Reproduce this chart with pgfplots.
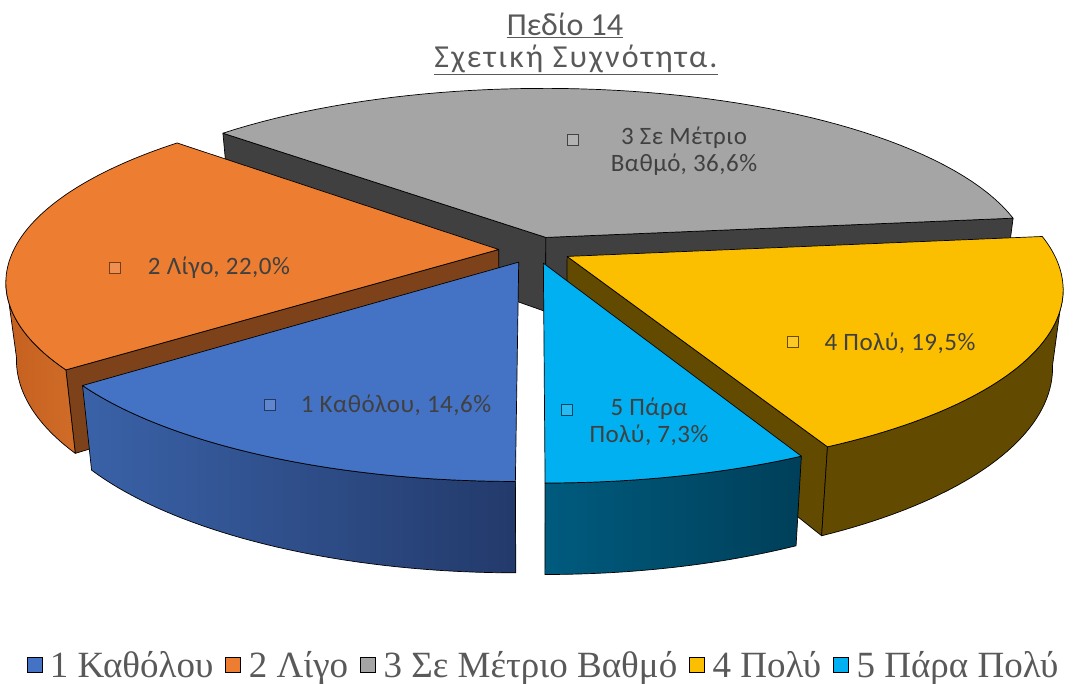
\documentclass[border=0pt]{standalone}
\usepackage{pgfplots}
\pgfplotsset{compat=1.18}
\usepackage{fontspec}
\setmainfont{Liberation Serif}
\newfontfamily\calibri{Carlito}

\definecolor{cBlue}{HTML}{4472C4}
\definecolor{cOrange}{HTML}{ED7D31}
\definecolor{cGrey}{HTML}{A5A5A5}
\definecolor{cYellow}{HTML}{FBBF00}
\definecolor{cCyan}{HTML}{00B0F0}
\definecolor{sBlueL}{HTML}{3A62A8}
\definecolor{sBlueR}{HTML}{233A6B}
\definecolor{sOrangeL}{HTML}{C5601F}
\definecolor{sOrangeR}{HTML}{D06C28}
\definecolor{kOrange}{HTML}{7D421A}
\definecolor{kGrey}{HTML}{404040}
\definecolor{sYellow}{HTML}{624B00}
\definecolor{sCyanL}{HTML}{005B7E}
\definecolor{sCyanR}{HTML}{003F59}
\definecolor{labgray}{HTML}{404040}
\definecolor{titlegray}{HTML}{595959}

% relative frequencies (%)
\def\pA{14.6}\def\pB{22.0}\def\pC{36.6}\def\pD{19.5}\def\pE{7.3}
\pgfmathsetmacro\tAb{270}
\pgfmathsetmacro\tAa{\tAb-3.6*\pA}
\pgfmathsetmacro\tBb{\tAa}
\pgfmathsetmacro\tBa{\tBb-3.6*\pB}
\pgfmathsetmacro\tCb{\tBa}
\pgfmathsetmacro\tCa{\tCb-3.6*\pC}
\pgfmathsetmacro\tDb{\tCa}
\pgfmathsetmacro\tDa{\tDb-3.6*\pD}
\pgfmathsetmacro\tEb{\tDa}
\pgfmathsetmacro\tEa{\tEb-3.6*\pE}
\def\ex{0.075}
\pgfmathsetmacro\uA{\ex*cos((\tAa+\tAb)/2)}\pgfmathsetmacro\vA{\ex*sin((\tAa+\tAb)/2)}
\pgfmathsetmacro\uB{\ex*cos((\tBa+\tBb)/2)}\pgfmathsetmacro\vB{\ex*sin((\tBa+\tBb)/2)}
\pgfmathsetmacro\uC{\ex*cos((\tCa+\tCb)/2)}\pgfmathsetmacro\vC{\ex*sin((\tCa+\tCb)/2)}
\pgfmathsetmacro\uD{\ex*cos((\tDa+\tDb)/2)}\pgfmathsetmacro\vD{\ex*sin((\tDa+\tDb)/2)}
\pgfmathsetmacro\uE{\ex*cos((\tEa+\tEb)/2)}\pgfmathsetmacro\vE{\ex*sin((\tEa+\tEb)/2)}
\pgfmathsetmacro\sil{asin(0.168)}
\pgfmathsetmacro\silL{180+\sil}
\pgfmathsetmacro\silR{-\sil}

\pgfplotsset{
  /pgf/declare function={
    PX(\qa,\qb,\qc)=535+485*(\qa)/(1+0.168*(\qb))*(1-0.02*(\qc));
    PY(\qb,\qc)=250+(75*(\qc)-178*(\qb))/(1+0.168*(\qb));
    TW(\qa)=((\qa<0.5)||(\qa>60.5)) ? 0 : 1;
    TT(\qa,\qb,\qc)=(\qb)+((\qa)-1)*((\qc)-(\qb))/59;
    ST(\qa,\qb,\qc)=(\qa<40.5) ? (\qb)+(\qa)*((\qc)-(\qb))/40 : ((\qa<81.5) ? (\qc)-((\qa)-41)*((\qc)-(\qb))/40 : (\qb));
    SZ(\qa)=((\qa>40.5)&&(\qa<81.5)) ? 1 : 0;
    RW(\qa)=((\qa>0.5)&&(\qa<2.5)) ? 1 : 0;
    RZ(\qa)=((\qa>1.5)&&(\qa<3.5)) ? 1 : 0;
  },
  pieedge/.style={draw=black, line width=0.7pt, line join=round},
  labkey/.style={only marks, mark=square*, mark size=5.5pt, line width=1.1pt, forget plot},
}

% top face: #1 colour, #2 start, #3 end, #4 du, #5 dv
\newcommand\topface[5]{%
\addplot[fill=#1, pieedge, variable=\s, domain=0:61, samples=62, forget plot]
 ({PX((#4)+TW(\s)*cos(TT(\s,#2,#3)), (#5)+TW(\s)*sin(TT(\s,#2,#3)), 0)},
  {PY((#5)+TW(\s)*sin(TT(\s,#2,#3)), 0)});}
% outer side: #1 style, #2 start, #3 end, #4 du, #5 dv
\newcommand\sideface[5]{%
\addplot[#1, pieedge, variable=\s, domain=0:82, samples=83, forget plot]
 ({PX((#4)+cos(ST(\s,#2,#3)), (#5)+sin(ST(\s,#2,#3)), SZ(\s))},
  {PY((#5)+sin(ST(\s,#2,#3)), SZ(\s))});}
% radial cut face: #1 style, #2 angle, #3 du, #4 dv
\newcommand\radface[4]{%
\addplot[#1, pieedge, variable=\s, samples at={0,1,2,3,4}, forget plot]
 ({PX((#3)+RW(\s)*cos(#2), (#4)+RW(\s)*sin(#2), RZ(\s))},
  {PY((#4)+RW(\s)*sin(#2), RZ(\s))});}

\begin{document}
\begin{tikzpicture}
\begin{axis}[
  scale only axis, width=1087pt, height=684pt,
  xmin=0, xmax=1087, ymin=0, ymax=684, y dir=reverse,
  hide axis, clip=false,
  legend columns=5,
  legend image code/.code={\fill[#1] (0pt,-7.5pt) rectangle (15pt,7.5pt); \path (21pt,0pt);},
  legend style={at={(axis description cs:0.5,0.028)}, anchor=center,
    draw=none, fill=none, text=titlegray,
    font=\fontsize{37}{40}\selectfont,
    inner sep=0pt,
    /tikz/every even column/.append style={column sep=10pt}},
]
% 3 (back)
\radface{fill=kGrey}{\tCb}{\uC}{\vC}
\radface{fill=kGrey}{\tCa}{\uC}{\vC}
\topface{cGrey}{\tCa}{\tCb}{\uC}{\vC}
% 2
\radface{fill=kOrange}{\tBb}{\uB}{\vB}
\sideface{left color=sOrangeL, right color=sOrangeR}{\silL}{\tBb}{\uB}{\vB}
\topface{cOrange}{\tBa}{\tBb}{\uB}{\vB}
% 4
\radface{fill=sYellow}{\tDa}{\uD}{\vD}
\sideface{fill=sYellow}{\tDa}{\silR}{\uD}{\vD}
\topface{cYellow}{\tDa}{\tDb}{\uD}{\vD}
% 1
\sideface{left color=sBlueL, right color=sBlueR}{\tAa}{\tAb}{\uA}{\vA}
\topface{cBlue}{\tAa}{\tAb}{\uA}{\vA}
% 5
\sideface{left color=sCyanL, right color=sCyanR}{\tEa}{\tEb}{\uE}{\vE}
\topface{cCyan}{\tEa}{\tEb}{\uE}{\vE}

% data label keys
\addplot[labkey, draw=cBlue!50!black, fill=cBlue!85!white] coordinates {(270,405)};
\addplot[labkey, draw=cOrange!50!black, fill=cOrange!85!white] coordinates {(115,268)};
\addplot[labkey, draw=cGrey!40!black, fill=cGrey!85!white] coordinates {(573,140)};
\addplot[labkey, draw=cYellow!40!black, fill=cYellow!85!white] coordinates {(793,342)};
\addplot[labkey, draw=cCyan!40!black, fill=cCyan!85!white] coordinates {(567,410)};

% data labels
\begin{scope}[every node/.style={font=\calibri\fontsize{25}{27}\selectfont\addfontfeature{LetterSpace=2}, text=labgray, align=center}]
\node at (axis cs:396,405) {1 Καθόλου, 14,6\%};
\node at (axis cs:219,268) {2 Λίγο, 22,0\%};
\node at (axis cs:684,151) {3 Σε Μέτριο\\Βαθμό, 36,6\%};
\node at (axis cs:900,343) {4 Πολύ, 19,5\%};
\node at (axis cs:649,422) {5 Πάρα\\Πολύ, 7,3\%};
\end{scope}

% title
\node[font=\calibri\fontsize{32}{34}\selectfont, text=titlegray] at (axis cs:565,25) {\underline{Πεδίο 14}};
\node[font=\calibri\fontsize{32}{34}\selectfont\addfontfeature{LetterSpace=7}, text=titlegray] at (axis cs:576,60) {\underline{Σχετική Συχνότητα.}};

% legend
\addlegendimage{fill=cBlue}\addlegendentry{1 Καθόλου}
\addlegendimage{fill=cOrange}\addlegendentry{2 Λίγο}
\addlegendimage{fill=cGrey}\addlegendentry{3 Σε Μέτριο Βαθμό}
\addlegendimage{fill=cYellow}\addlegendentry{4 Πολύ}
\addlegendimage{fill=cCyan}\addlegendentry{5 Πάρα Πολύ}
\end{axis}
\pgfresetboundingbox
\path[use as bounding box] (current axis.south west) rectangle (current axis.north east);
\end{tikzpicture}
\end{document}
